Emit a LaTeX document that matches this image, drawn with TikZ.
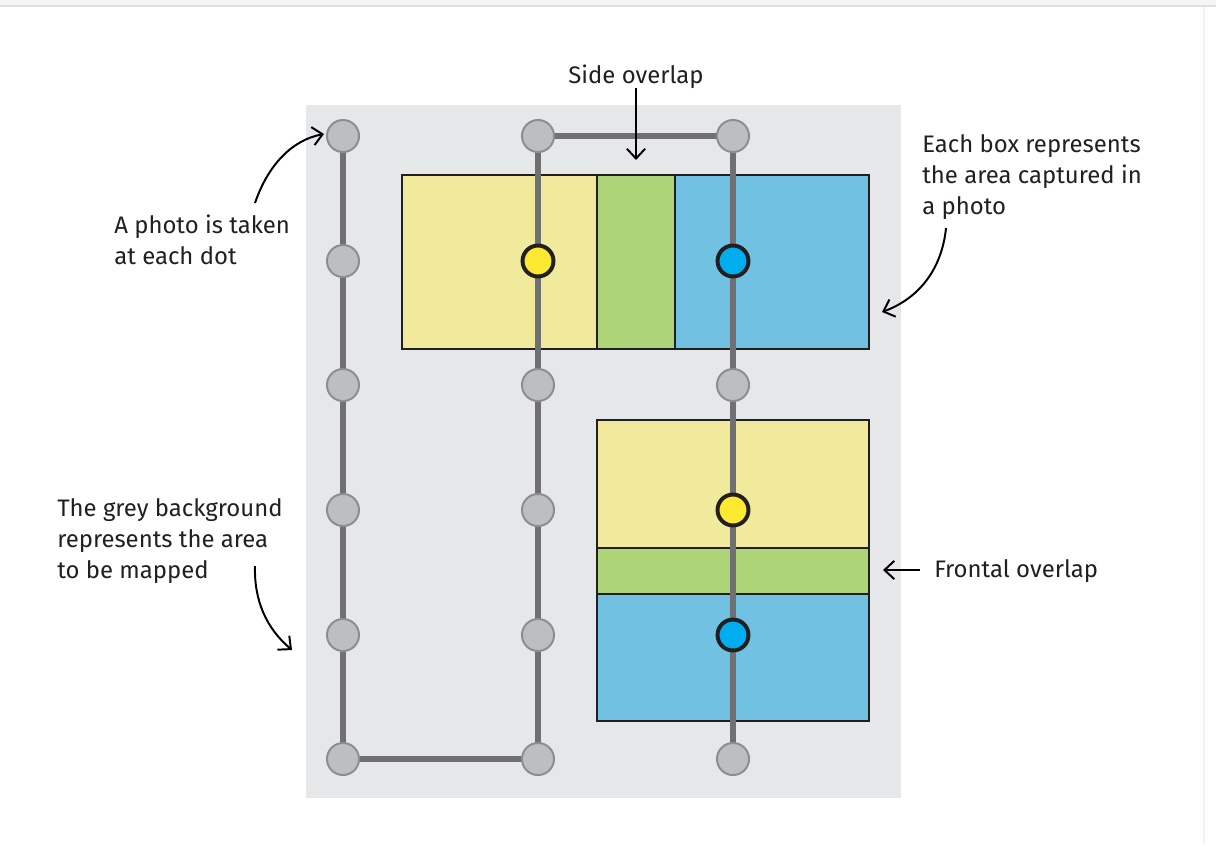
\documentclass[tikz,border=0pt]{standalone}
\usepackage{fontspec}
\setmainfont{Fira Sans}
\usetikzlibrary{arrows.meta}
\definecolor{bgrey}{HTML}{E6E7E9}
\definecolor{pathgrey}{HTML}{707072}
\definecolor{dotfill}{HTML}{BDBEC0}
\definecolor{dotline}{HTML}{8C8D8F}
\definecolor{boxyellow}{HTML}{F1EA9D}
\definecolor{boxgreen}{HTML}{AED47A}
\definecolor{boxblue}{HTML}{71C1E3}
\definecolor{dotyellow}{HTML}{FBE932}
\definecolor{dotblue}{HTML}{00AEEF}
\definecolor{ink}{HTML}{231F20}
\pgfdeclarelayer{bglayer}
\pgfdeclarelayer{midlayer}
\pgfsetlayers{bglayer,midlayer,main}
\tikzset{
  gdot/.style={circle, fill=dotfill, draw=dotline, line width=1.4pt, minimum size=22.8pt, inner sep=0pt},
  ydot/.style={circle, fill=dotyellow, draw=ink, line width=2.8pt, minimum size=22pt, inner sep=0pt},
  bdot/.style={circle, fill=dotblue, draw=ink, line width=2.8pt, minimum size=22pt, inner sep=0pt},
  route/.style={draw=pathgrey, line width=4.3pt},
  photobox/.style={draw=ink, line width=1.4pt},
  callout/.style={draw=black, line width=1.4pt, -{Straight Barb[length=7pt,width=13pt,line width=1.4pt]}},
  label/.style={font=\fontsize{17}{22}\selectfont, text=ink, inner sep=0pt, align=left}
}
\begin{document}
\begin{tikzpicture}[x=0.025cm,y=-0.025cm]
\useasboundingbox (0,0) rectangle (1216,844);

% dots
\foreach \c/\x in {a/343,b/538,c/733}{
  \foreach \r/\y in {1/136,2/261,3/385,4/510,5/635,6/759}{
    \node[gdot] (\c\r) at (\x,\y) {};
  }
}
\node[ydot] (y1) at (538,261) {};
\node[bdot] (u1) at (733,261) {};
\node[ydot] (y2) at (733,510) {};
\node[bdot] (u2) at (733,635) {};

\begin{pgfonlayer}{bglayer}
  \fill[white] (0,0) rectangle (1216,844);
  \fill[black!4] (0,0) rectangle (1216,5);
  \draw[black!12, line width=1.2pt] (0,6) -- (1216,6);
  \draw[black!5, line width=0.8pt] (1204,7) -- (1204,844);
  \fill[bgrey] (306,105) rectangle (901,798);
  % top boxes
  \fill[boxyellow] (402,175) rectangle (597,349);
  \fill[boxblue] (675,175) rectangle (869,349);
  \filldraw[fill=boxgreen, photobox] (597,175) rectangle (675,349);
  \draw[photobox] (402,175) rectangle (869,349);
  % bottom boxes
  \fill[boxyellow] (597,420) rectangle (869,548);
  \fill[boxblue] (597,594) rectangle (869,721);
  \filldraw[fill=boxgreen, photobox] (597,548) rectangle (869,594);
  \draw[photobox] (597,420) rectangle (869,721);
\end{pgfonlayer}

\begin{pgfonlayer}{midlayer}
  \draw[route] (a1.center) -- (a6.center) -- (b6.center) -- (b1.center) -- (c1.center) -- (c6.center);
\end{pgfonlayer}

% labels (base = baseline of last line)
\node[label, anchor=base] (side) at (636,83) {Side overlap};
\node[label, anchor=base west] (front) at (934,577) {Frontal overlap};
\node[label, anchor=base west] (each) at (922,214) {Each box represents\\the area captured in\\a photo};
\node[label, anchor=base west] (photo) at (114,264) {A photo is taken\\at each dot};
\node[label, anchor=base west] (grey) at (57,578) {The grey background\\represents the area\\to be mapped};

% callout arrows
\coordinate (sideTip) at (636,160);
\coordinate (frontTip) at (883,570);
\coordinate (frontStart) at (920,570);
\coordinate (eachStart) at (946,228);
\coordinate (eachTip) at (882,312);
\coordinate (photoStart) at (255,203);
\coordinate (photoTip) at (324,134);
\coordinate (greyStart) at (255,566);
\coordinate (greyTip) at (292,650);

\draw[callout] (side.south |- 0,88) -- (sideTip);
\draw[callout] (frontStart) -- (frontTip);
\draw[callout] (eachStart) .. controls (942,268) and (920,298) .. (eachTip);
\draw[callout] (photoStart) .. controls (268,165) and (292,140) .. (photoTip);
\draw[callout] (greyStart) .. controls (254,600) and (266,628) .. (greyTip);
\end{tikzpicture}
\end{document}
